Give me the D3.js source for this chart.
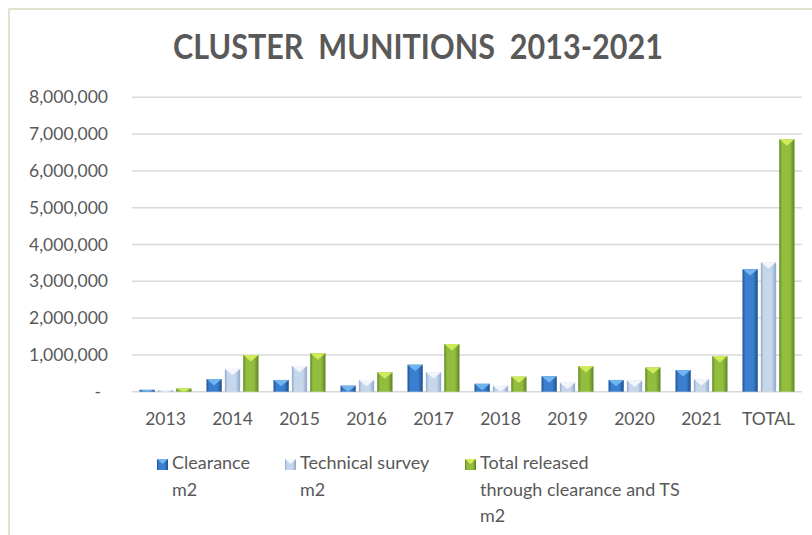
<!DOCTYPE html>
<html>
<head>
<meta charset="utf-8">
<script src="https://cdn.jsdelivr.net/npm/d3@7"></script>
<style>
  body { margin: 0; background: #fff; }
  text { font-family: Lato, "Open Sans", sans-serif; fill: #595959; }
</style>
</head>
<body>
<script>
  // chart data
  var categories = ["2013", "2014", "2015", "2016", "2017", "2018", "2019", "2020", "2021", "TOTAL"];
  var seriesKeys = ["clearance", "survey", "total"];
  var seriesLabels = [["Clearance", "m2"], ["Technical survey", "m2"], ["Total released", "through clearance and TS", "m2"]];
  var clearance = [50000, 345000, 320000, 165000, 735000, 215000, 420000, 320000, 590000, 3330000];
  var survey = [40000, 620000, 700000, 320000, 530000, 160000, 245000, 300000, 340000, 3520000];
  var total = [90000, 995000, 1045000, 525000, 1295000, 410000, 695000, 660000, 970000, 6860000];
  var yTicks = [0, 1000000, 2000000, 3000000, 4000000, 5000000, 6000000, 7000000, 8000000];

  var values = { clearance: clearance, survey: survey, total: total };

  // colours: edge, middle, top bevel
  var colors = {
    clearance: ["#1d4f8e", "#3a7fcf", "#74b7f0"],
    survey: ["#8ea8c8", "#c6d7ec", "#f4f8fd"],
    total: ["#5a8420", "#93bd3e", "#d2ec5c"]
  };

  var width = 812, height = 535;
  var plot = { left: 132, right: 802, top: 97.3, bottom: 391.7 };

  var svg = d3.select("body").append("svg")
    .attr("width", width)
    .attr("height", height);

  // gradients for the bevelled bars
  var defs = svg.append("defs");
  seriesKeys.forEach(function(k) {
    var g = defs.append("linearGradient")
      .attr("id", "grad-" + k)
      .attr("x1", "0%").attr("x2", "100%").attr("y1", "0%").attr("y2", "0%");
    g.append("stop").attr("offset", "0%").attr("stop-color", colors[k][0]);
    g.append("stop").attr("offset", "18%").attr("stop-color", colors[k][1]);
    g.append("stop").attr("offset", "70%").attr("stop-color", colors[k][1]);
    g.append("stop").attr("offset", "100%").attr("stop-color", colors[k][0]);
  });

  // chart border (runs off the right and bottom of the picture)
  svg.append("rect")
    .attr("x", 9).attr("y", 9)
    .attr("width", width + 20).attr("height", height + 20)
    .attr("fill", "none")
    .attr("stroke", "#d8dcc2")
    .attr("stroke-width", 1.5);

  // title
  svg.append("text")
    .attr("x", 418).attr("y", 59)
    .attr("text-anchor", "middle")
    .attr("font-size", 35)
    .attr("font-weight", 700)
    .attr("textLength", 490)
    .attr("lengthAdjust", "spacingAndGlyphs")
    .style("white-space", "pre")
    .attr("xml:space", "preserve")
    .text("CLUSTER  MUNITIONS  2013-2021");

  var y = d3.scaleLinear()
    .domain([0, 8000000])
    .range([plot.bottom, plot.top]);

  var x = d3.scaleBand()
    .domain(categories)
    .range([plot.left, plot.right])
    .paddingInner(0.224)
    .paddingOuter(0.112);

  var x1 = d3.scaleBand()
    .domain(seriesKeys)
    .range([0, x.bandwidth()])
    .paddingInner(0.17);

  // gridlines
  svg.append("g").selectAll("line")
    .data(yTicks)
    .enter().append("line")
    .attr("x1", plot.left).attr("x2", plot.right)
    .attr("y1", function(d) { return y(d); })
    .attr("y2", function(d) { return y(d); })
    .attr("stroke", "#d9d9d9")
    .attr("stroke-width", 1.5);

  // y labels
  var fmt = d3.format(",");
  svg.append("g").selectAll("text")
    .data(yTicks)
    .enter().append("text")
    .attr("x", function(d) { return d === 0 ? 101 : 108; })
    .attr("y", function(d) { return y(d) + 6; })
    .attr("text-anchor", "end")
    .attr("font-size", 17.5)
    .text(function(d) { return d === 0 ? "-" : fmt(d); });

  // x labels
  svg.append("g").selectAll("text")
    .data(categories)
    .enter().append("text")
    .attr("x", function(d) { return x(d) + x.bandwidth() / 2; })
    .attr("y", 425)
    .attr("text-anchor", "middle")
    .attr("font-size", 17.5)
    .text(function(d) { return d; });

  // bars
  var groups = svg.append("g").selectAll("g")
    .data(categories)
    .enter().append("g")
    .attr("transform", function(d) { return "translate(" + x(d) + ",0)"; });

  var bars = groups.selectAll("g")
    .data(function(d, i) {
      return seriesKeys.map(function(k) { return { key: k, value: values[k][i] }; });
    })
    .enter().append("g");

  bars.append("rect")
    .attr("x", function(d) { return x1(d.key); })
    .attr("y", function(d) { return y(d.value); })
    .attr("width", x1.bandwidth())
    .attr("height", function(d) { return y(0) - y(d.value); })
    .attr("fill", function(d) { return "url(#grad-" + d.key + ")"; });

  // top bevel triangle
  bars.append("path")
    .attr("d", function(d) {
      var x0 = x1(d.key), w = x1.bandwidth(), top = y(d.value);
      var h = Math.min(w * 0.42, y(0) - top);
      return "M" + x0 + "," + top + "L" + (x0 + w) + "," + top + "L" + (x0 + w / 2) + "," + (top + h) + "Z";
    })
    .attr("fill", function(d) { return colors[d.key][2]; })
    .attr("opacity", 0.95);

  // legend
  var legendX = [157, 285, 465];
  var legend = svg.append("g").selectAll("g")
    .data(seriesKeys)
    .enter().append("g")
    .attr("transform", function(d, i) { return "translate(" + legendX[i] + ",459)"; });

  legend.append("rect")
    .attr("width", 11).attr("height", 11)
    .attr("fill", function(d) { return "url(#grad-" + d + ")"; });

  legend.append("path")
    .attr("d", "M0,0L11,0L5.5,5Z")
    .attr("fill", function(d) { return colors[d][2]; });

  legend.append("text")
    .attr("x", 15)
    .attr("y", 10)
    .attr("font-size", 18)
    .selectAll("tspan")
    .data(function(d, i) { return seriesLabels[i]; })
    .enter().append("tspan")
    .attr("x", 15)
    .attr("dy", function(d, i) { return i === 0 ? 0 : 26.5; })
    .text(function(d) { return d; });
</script>
</body>
</html>
